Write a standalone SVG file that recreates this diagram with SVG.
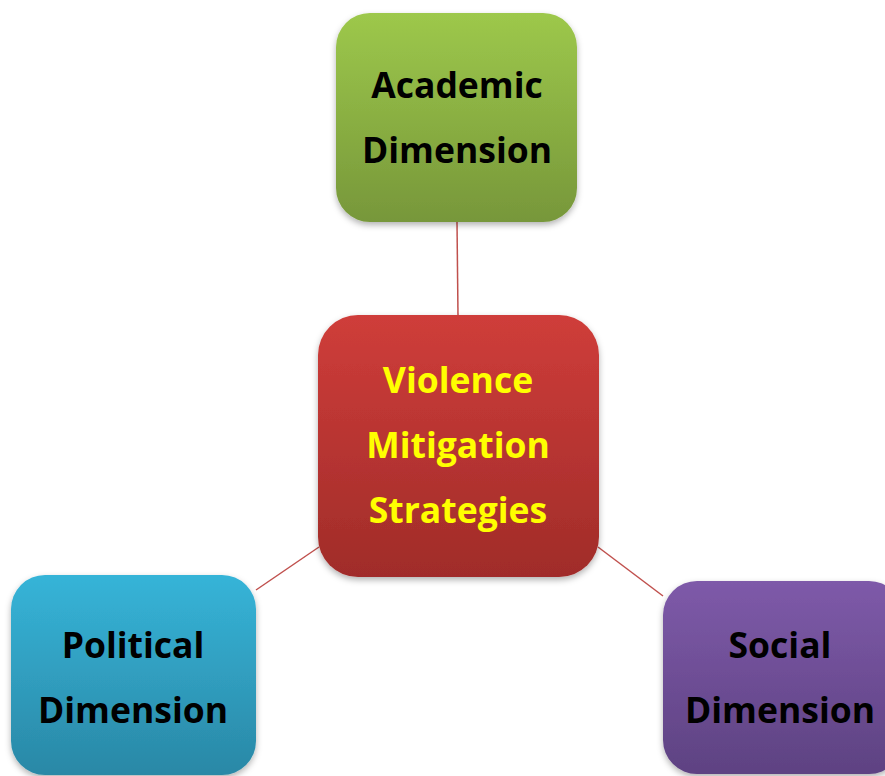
<svg xmlns="http://www.w3.org/2000/svg" width="885" height="776" viewBox="0 0 885 776">
<defs>
<linearGradient id="gGreen" x1="0" y1="0" x2="0" y2="1"><stop offset="0" stop-color="#9dc84b"/><stop offset="1" stop-color="#77973a"/></linearGradient>
<linearGradient id="gRed" x1="0" y1="0" x2="0" y2="1"><stop offset="0" stop-color="#cf3d3a"/><stop offset="1" stop-color="#a02c29"/></linearGradient>
<linearGradient id="gBlue" x1="0" y1="0" x2="0" y2="1"><stop offset="0" stop-color="#36b4d8"/><stop offset="1" stop-color="#2a88a6"/></linearGradient>
<linearGradient id="gPurple" x1="0" y1="0" x2="0" y2="1"><stop offset="0" stop-color="#7e5aa9"/><stop offset="1" stop-color="#5e4282"/></linearGradient>
<filter id="sh" x="-10%" y="-10%" width="120%" height="125%"><feDropShadow dx="0" dy="3" stdDeviation="3" flood-color="#000" flood-opacity="0.3"/></filter>
</defs>
<style>
.lbl{font-family:"Open Sans","Noto Sans","Liberation Sans",sans-serif;font-weight:bold;font-size:35.5px;text-anchor:middle;fill:#000}
.ctr{fill:#ffff00}
.conn{stroke:#c0504d;stroke-width:1.5;fill:none}
</style>
<rect width="885" height="776" fill="#fff"/>
<g id="connectors">
<line class="conn" x1="457" y1="222" x2="458" y2="316"/>
<line class="conn" x1="319" y1="547" x2="256" y2="590"/>
<line class="conn" x1="598" y1="547" x2="663" y2="596"/>
</g>
<g id="academic">
<rect x="336" y="13" width="241" height="209" rx="34" fill="url(#gGreen)" filter="url(#sh)"/>
<text class="lbl" x="457" y="98">Academic</text>
<text class="lbl" x="457" y="163">Dimension</text>
</g>
<g id="center">
<rect x="318" y="315" width="281" height="262" rx="40" fill="url(#gRed)" filter="url(#sh)"/>
<text class="lbl ctr" x="458" y="393">Violence</text>
<text class="lbl ctr" x="458" y="458">Mitigation</text>
<text class="lbl ctr" x="458" y="523">Strategies</text>
</g>
<g id="political">
<rect x="11" y="575" width="245" height="200" rx="34" fill="url(#gBlue)" filter="url(#sh)"/>
<text class="lbl" x="133" y="658">Political</text>
<text class="lbl" x="133" y="723">Dimension</text>
</g>
<g id="social">
<rect x="663" y="581" width="240" height="193" rx="34" fill="url(#gPurple)" filter="url(#sh)"/>
<text class="lbl" x="780" y="658">Social</text>
<text class="lbl" x="780" y="723">Dimension</text>
</g>
</svg>
